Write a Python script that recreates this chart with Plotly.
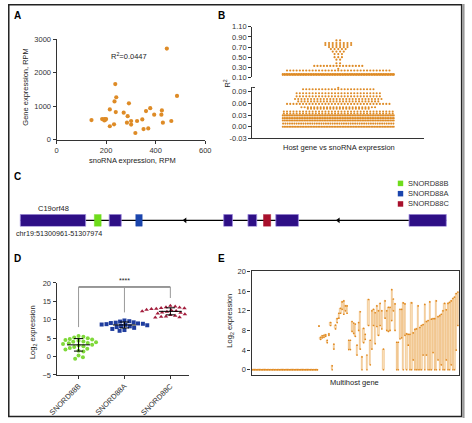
import plotly.graph_objects as go

W, H = 472, 423
def fx(px): return px / W
def fy(py): return 1 - py / H

# ---------------- DATA ----------------
# Panel A
a_snorna = [141, 184, 193, 200, 193, 197, 215, 232, 215, 239, 234, 241, 237, 271, 287, 292, 284, 301, 301,
            318, 325, 346, 351, 361, 370, 378, 394, 425, 423, 429, 463, 486, 445]
a_gene = [588, 617, 617, 617, 576, 600, 403, 461, 905, 827, 1144, 1268, 1663, 807, 703, 1086, 510, 559, 452,
          202, 559, 605, 317, 856, 337, 942, 749, 876, 749, 510, 559, 1308, 2720]
a_r2_text = "R<sup>2</sup>=0.0447"

# Panel B (R2 value levels and number of genes at each level)
b_upper_values = [0.83, 0.78, 0.74, 0.70, 0.66, 0.61, 0.56, 0.50, 0.45, 0.38, 0.327, 0.27, 0.236, 0.165, 0.15]
b_upper_counts = [2, 8, 8, 6, 5, 4, 3, 3, 2, 2, 16, 1, 33, 66, 70]
b_lower_values = [0.100, 0.096, 0.086, 0.078, 0.071, 0.065, 0.0586, 0.050, 0.046, 0.039, 0.034,
                  0.029, 0.022, 0.016, 0.008, 0.0]
b_lower_counts = [1, 23, 27, 27, 28, 26, 33, 24, 20, 35, 35, 68, 68, 68, 50, 70]
b_upper_ticks = [0.10, 0.30, 0.50, 0.70, 0.90, 1.10]
b_lower_ticks = [-0.03, 0.00, 0.03, 0.06, 0.09]

# Panel C (diagram units along the locus)
c_line = [0, 439]
c_exon_start = [0.0, 91.6, 209.6, 234.6, 263.3, 400.6]
c_exon_end = [67.3, 104.0, 218.6, 243.6, 286.6, 439.0]
c_sno_names = ["SNORD88B", "SNORD88A", "SNORD88C"]
c_sno_start = [76.3, 119.0, 250.6]
c_sno_end = [83.3, 125.6, 258.0]
c_arrow_pos = [169.8, 327.8]
c_gene_name = "C19orf48"
c_locus = "chr19:51300961-51307974"

# Panel D
d_categories = ["SNORD88B", "SNORD88A", "SNORD88C"]
d_b = [5.6, 5.4, 5.2, 5.0, 4.8, 4.6, 4.5, 4.3, 4.1, 4.0, 3.9, 3.7, 3.6, 3.4, 3.2, 3.0, 2.8, 2.6, 2.3, 2.1,
       1.9, 1.6, 1.4, 0.3, -0.2, -0.6]
d_a = [9.8, 9.6, 9.5, 9.3, 9.2, 9.1, 9.0, 8.9, 8.8, 8.7, 8.6, 8.5, 8.3, 8.2, 8.0, 7.8, 7.5, 7.2, 7.0]
d_c = [13.8, 13.6, 13.4, 13.3, 13.2, 13.1, 13.0, 13.0, 12.9, 12.8, 12.7, 12.6, 12.5, 12.4, 12.3, 12.2, 12.0,
       11.9, 11.7, 11.5, 11.3, 11.1, 10.9, 10.8, 10.7, 10.6]
d_y_ticks = [-5, 0, 5, 10, 15, 20]
d_bracket_y = 18.9
d_drop_ends = [8.0, 12.0, 15.9]

# Panel E (per multihost gene: min and max snoRNA log2 expression)
e_min = [0] * 40 + [8.9, 6.2, 6.5, 6.6, 6.8, 5.5, 7.0, 9.0, 0.0, 4.2, 8.3, 9.6, 10.5, 11.5, 12.3, 11.3, 12.0, 11.5,
                    4.1, 4.1, 7.8, 7.4, 6.8, 3.0, 8.0, 4.2, 0.0, 5.5, 6.2, 0.0, 9.0, 1.0, 4.2, 9.0, 5.3, 8.8, 7.0,
                    9.0, 8.3, 0.0, 10.5, 8.0, 7.8, 8.0, 10.0, 12.0, 8.0, 0.0, 0.0, 6.3, 6.5, 0.0, 7.0, 0.0, 5.0,
                    0.0, 0.0, 2.0, 0.0, 0.0, 0.0, 0.0, 0.0, 3.0, 0.0, 3.0, 0.0, 0.0, 0.0, 3.5, 0.0, 0.0, 2.0, 0.0,
                    1.0, 0.0, 0.0, 2.0, 0.0, 0.0, 1.0, 0.0, 0.0, 4.0, 9.0]
e_max = [0] * 40 + [8.9, 6.6, 6.9, 7.0, 7.1, 6.0, 7.3, 9.6, 0.8, 5.2, 9.1, 10.4, 11.5, 12.5, 13.8, 14.0, 13.0, 13.0,
                    6.0, 6.0, 9.8, 9.5, 9.3, 5.0, 9.6, 11.8, 2.6, 8.4, 7.2, 3.0, 14.3, 6.0, 12.0, 12.3, 11.6, 13.0,
                    12.0, 13.5, 12.0, 4.2, 14.0, 12.0, 12.7, 12.7, 16.3, 14.4, 13.4, 5.6, 5.6, 12.3, 12.3, 13.6,
                    13.4, 7.3, 7.2, 7.2, 13.6, 7.5, 8.2, 8.3, 13.0, 8.6, 9.0, 9.2, 13.3, 9.8, 10.0, 13.8, 10.3,
                    10.4, 10.4, 14.0, 10.8, 11.0, 11.3, 12.0, 13.5, 12.2, 13.5, 13.7, 14.0, 14.5, 14.8, 15.5, 15.8]
e_y_ticks = [0, 4, 8, 12, 16, 20]

# ---------------- STYLE ----------------
ORANGE = "#de8b26"
TXT = "#333333"
FONT = "Liberation Sans, Arial, sans-serif"
NARROW = "Liberation Sans Narrow, Liberation Sans, Arial, sans-serif"
tickfont = dict(family=FONT, size=7.5, color=TXT)

fig = go.Figure()

# ---- Panel A
fig.add_trace(go.Scatter(x=a_snorna, y=a_gene, mode="markers", xaxis="x", yaxis="y",
                         marker=dict(size=4.2, color=ORANGE), cliponaxis=False, showlegend=False))

# ---- Panel B (row swarm layout)
B_PX_PER_UNIT = (429 - 251.7) / 2.0
def row_offsets(values, counts):
    xs, ys = [], []
    for v, c in zip(values, counts):
        if c <= 10:
            sp = 3.8
        elif c <= 36:
            sp = 3.3
        else:
            sp = 116.0 / c
        for k in range(c):
            xs.append((k - (c - 1) / 2) * sp / B_PX_PER_UNIT)
            ys.append(v)
    return xs, ys

bx, by = row_offsets(b_upper_values, b_upper_counts)
fig.add_trace(go.Scatter(x=bx, y=by, mode="markers", xaxis="x2", yaxis="y3", cliponaxis=False,
                         marker=dict(size=2.2, color=ORANGE), showlegend=False))
bx, by = row_offsets(b_lower_values, b_lower_counts)
fig.add_trace(go.Scatter(x=bx, y=by, mode="markers", xaxis="x2", yaxis="y2", cliponaxis=False,
                         marker=dict(size=2.1, color=ORANGE), showlegend=False))

# ---- Panel C
fig.add_trace(go.Scatter(x=c_line, y=[0, 0], mode="lines", xaxis="x4", yaxis="y4",
                         line=dict(color="black", width=1.2), showlegend=False))
fig.add_trace(go.Scatter(x=c_arrow_pos, y=[0] * len(c_arrow_pos), mode="markers", xaxis="x4", yaxis="y4",
                         marker=dict(symbol="triangle-left", size=5, color="black"), showlegend=False))
shapes = []
EXON = "#2e0f86"
for s, e in zip(c_exon_start, c_exon_end):
    shapes.append(dict(type="rect", xref="x4", yref="y4", x0=s, x1=e, y0=-1, y1=1,
                       fillcolor=EXON, line=dict(color="#9d8ae0", width=0.8)))
SNO_COLORS = ["#6fdc1c", "#1b45ad", "#a8102c"]
for s, e, col in zip(c_sno_start, c_sno_end, SNO_COLORS):
    shapes.append(dict(type="rect", xref="x4", yref="y4", x0=s, x1=e, y0=-1, y1=1,
                       fillcolor=col, line=dict(color=col, width=0.5)))
annotations = []
for i, (name, col) in enumerate(zip(c_sno_names, SNO_COLORS)):
    cy = 183.3 + i * 10.5
    shapes.append(dict(type="rect", xref="paper", yref="paper", x0=fx(401.7), x1=fx(407.3),
                       y0=fy(cy + 2.8), y1=fy(cy - 2.8), fillcolor=col, line=dict(width=0)))
    annotations.append(dict(x=fx(410.5), y=fy(cy), xref="paper", yref="paper", text=name, showarrow=False,
                            xanchor="left", yanchor="middle", font=dict(family=FONT, size=7.5, color=TXT)))
annotations.append(dict(x=fx(46.7), y=fy(209), xref="paper", yref="paper", text=c_gene_name, showarrow=False,
                        xanchor="center", yanchor="middle", font=dict(family=FONT, size=7.5, color="#222")))
annotations.append(dict(x=fx(6.5), y=fy(234.3), xref="paper", yref="paper", text=c_locus, showarrow=False,
                        xanchor="left", yanchor="middle", font=dict(family=FONT, size=7.2, color="#222")))

# ---- Panel D (scatter dot plot)
D_PX_X = 47.3
D_PX_Y = 3.75
def swarm(values, diam=4.6):
    placed, out = [], []
    cands = [0.0]
    for i in range(1, 200):
        cands += [i * 0.5, -i * 0.5]
    for v in values:
        yp = v * D_PX_Y
        for dx in cands:
            if all((dx - px) ** 2 + (yp - py) ** 2 >= diam ** 2 for px, py in placed):
                break
        placed.append((dx, yp))
        out.append(dx / D_PX_X)
    return out

def mean_sd(v):
    m = sum(v) / len(v)
    sd = (sum((x - m) ** 2 for x in v) / (len(v) - 1)) ** 0.5
    return m, sd

D_COLORS = ["#7fd93a", "#1f3d9e", "#a31d3c"]
D_SYMBOLS = ["circle", "square", "triangle-up"]
for i, (vals, col, sym) in enumerate(zip([d_b, d_a, d_c], D_COLORS, D_SYMBOLS)):
    offs = swarm(vals)
    fig.add_trace(go.Scatter(x=[i + o for o in offs], y=vals, mode="markers", xaxis="x5", yaxis="y5",
                             marker=dict(size=4, color=col, symbol=sym), cliponaxis=False, showlegend=False))
    m, sd = mean_sd(vals)
    fig.add_trace(go.Scatter(x=[i - 0.25, i + 0.25, None, i, i, None, i - 0.1, i + 0.1, None, i - 0.1, i + 0.1],
                             y=[m, m, None, m - sd, m + sd, None, m - sd, m - sd, None, m + sd, m + sd],
                             mode="lines", xaxis="x5", yaxis="y5", line=dict(color="black", width=1),
                             showlegend=False))
shapes.append(dict(type="line", xref="x5", yref="y5", x0=0, x1=2, y0=d_bracket_y, y1=d_bracket_y,
                   line=dict(color="#333", width=1)))
for i, ye in enumerate(d_drop_ends):
    shapes.append(dict(type="line", xref="x5", yref="y5", x0=i, x1=i, y0=d_bracket_y, y1=ye,
                       line=dict(color="#999", width=1)))
annotations.append(dict(x=1, y=d_bracket_y + 0.3, xref="x5", yref="y5", text="****", showarrow=False,
                        yanchor="bottom", font=dict(family=FONT, size=7, color="#222")))

# ---- Panel E
idx = list(range(len(e_min)))
fig.add_trace(go.Bar(x=idx, y=[b - a for a, b in zip(e_min, e_max)], base=e_min, width=0.75,
                     xaxis="x6", yaxis="y6", marker=dict(color="#fbe1bd", line=dict(color="#e9aa60", width=0.5)),
                     showlegend=False))
fig.add_trace(go.Scatter(x=idx + idx, y=e_min + e_max, mode="markers", xaxis="x6", yaxis="y6",
                         marker=dict(size=1.7, color="#e08a20"), cliponaxis=False, showlegend=False))

# ---- panel letters & titles
for lab, x, y in [("A", 10, 12), ("B", 220, 12), ("C", 10, 176.7), ("D", 10, 260), ("E", 220, 260)]:
    annotations.append(dict(x=fx(x), y=fy(y), xref="paper", yref="paper", text="<b>%s</b>" % lab,
                            showarrow=False, xanchor="center", yanchor="middle",
                            font=dict(family=FONT, size=10, color="black")))
titles = [
    (a_r2_text, 125, 53, 0, FONT, 7.5),
    ("snoRNA expression, RPM", 128.8, 160, 0, NARROW, 7.5),
    ("Gene expression, RPM", 18, 84, -90, NARROW, 7.5),
    ("Host gene vs snoRNA expression", 341, 146.7, 0, NARROW, 7.5),
    ("R<sup>2</sup>", 226, 81, -90, NARROW, 7.5),
    ("Log<sub>2</sub> expression", 26, 335, -90, NARROW, 7.5),
    ("Log<sub>2</sub> expression", 229.3, 323, -90, NARROW, 7.5),
    ("Multihost gene", 356.7, 386.7, 0, NARROW, 7.5),
]
for t, x, y, ang, fam, sz in titles:
    annotations.append(dict(x=fx(x), y=fy(y), xref="paper", yref="paper", text=t, showarrow=False,
                            textangle=ang, xanchor="center", yanchor="middle",
                            font=dict(family=fam, size=sz, color="#222")))

shapes.append(dict(type="line", xref="paper", yref="paper", x0=fx(251.7), x1=fx(254.5), y0=fy(85.3), y1=fy(85.3),
                   line=dict(color="#333", width=1)))
shapes.append(dict(type="rect", xref="paper", yref="paper", x0=fx(0.8), x1=fx(467.5), y0=fy(421.5), y1=fy(0.8),
                   line=dict(color="#222", width=1.5), layer="above"))
shapes.append(dict(type="line", xref="paper", yref="paper", x0=fx(469.5), x1=fx(469.5), y0=0, y1=1,
                   line=dict(color="#9a9a9a", width=2)))

axis_base = dict(showgrid=False, zeroline=False, showline=True, linecolor="#333", linewidth=1,
                 ticks="outside", ticklen=3, tickwidth=1, tickcolor="#333", tickfont=tickfont)
hidden = dict(visible=False, showgrid=False, zeroline=False)

fig.update_layout(
    width=W, height=H, margin=dict(l=0, r=0, t=0, b=0),
    paper_bgcolor="white", plot_bgcolor="rgba(0,0,0,0)",
    showlegend=False, bargap=0,
    xaxis=dict(axis_base, domain=[fx(50), fx(203.3)], range=[0, 600], tickvals=[0, 200, 400, 600], anchor="y"),
    yaxis=dict(axis_base, domain=[fy(138.7), fy(36)], range=[0, 3000], tickvals=[0, 1000, 2000, 3000], anchor="x"),
    xaxis2=dict(axis_base, domain=[fx(251.7), fx(429)], range=[-1, 1], ticks="", showticklabels=False, anchor="y2"),
    yaxis2=dict(axis_base, domain=[fy(137.3), fy(85.3)], range=[-0.03, 0.1007], tickvals=b_lower_ticks,
                ticktext=["%.2f" % v for v in b_lower_ticks], anchor="x2"),
    yaxis3=dict(axis_base, domain=[fy(75), fy(23.3)], range=[0.10, 1.10], tickvals=b_upper_ticks,
                ticktext=["%.2f" % v for v in b_upper_ticks], anchor="x2"),
    xaxis4=dict(hidden, domain=[0, 1], range=[-12.7, 459.3], anchor="y4"),
    yaxis4=dict(hidden, domain=[fy(227.3), fy(214.7)], range=[-1, 1], anchor="x4"),
    xaxis5=dict(axis_base, domain=[fx(50), fx(186.7)], range=[-0.48, 2.41], tickvals=[0, 1, 2],
                ticktext=d_categories, tickangle=-45, anchor="y5"),
    yaxis5=dict(axis_base, domain=[fy(379), fy(285)], range=[-5, 20], tickvals=d_y_ticks, anchor="x5"),
    xaxis6=dict(axis_base, domain=[fx(251), fx(465)], range=[-0.8, len(e_min) - 0.2], ticks="",
                showticklabels=False, mirror=True, anchor="y6", linewidth=1.2),
    yaxis6=dict(axis_base, domain=[fy(379), fy(273.3)], range=[-1.06, 20], tickvals=e_y_ticks, mirror=True,
                anchor="x6", linewidth=1.2),
    shapes=shapes, annotations=annotations,
)

fig.write_html("out.html", config={"displayModeBar": False},
               post_script="document.body.style.margin='0px';document.body.style.overflow='hidden';")
